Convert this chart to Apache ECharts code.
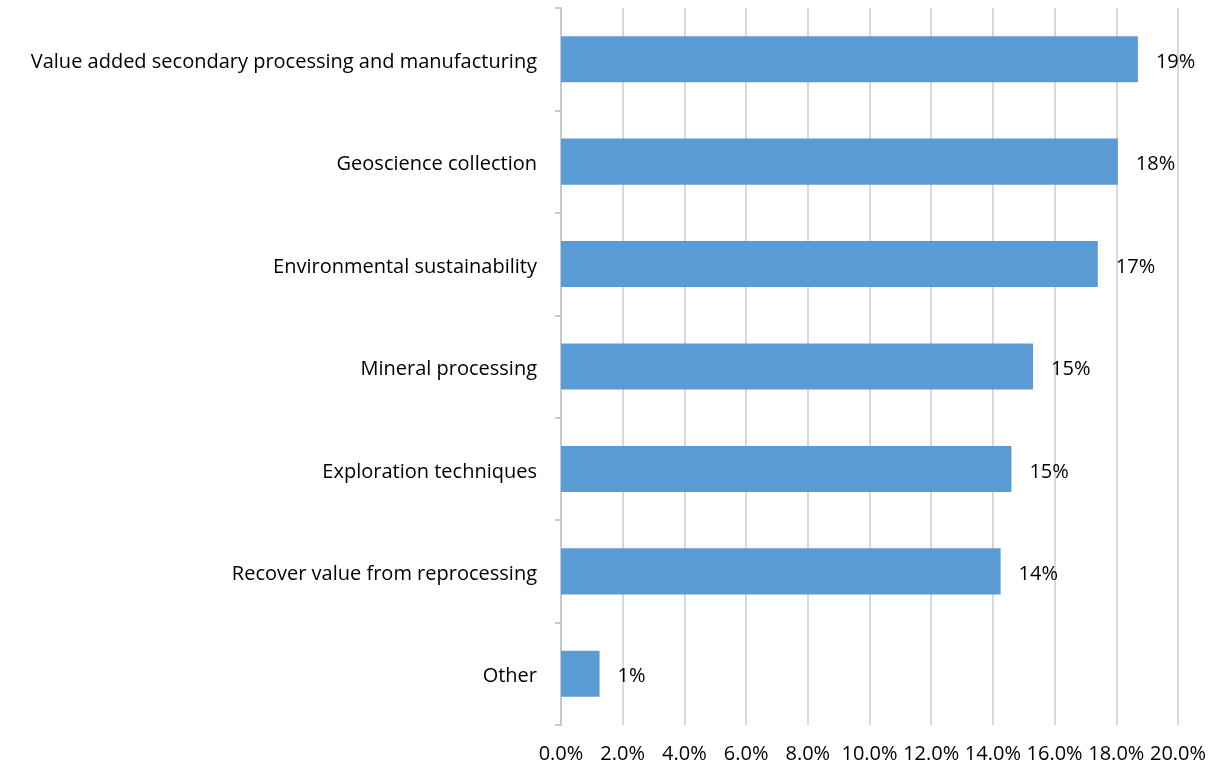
<!DOCTYPE html>
<html>
<head>
<meta charset="utf-8">
<script src="https://cdn.jsdelivr.net/npm/echarts@6/dist/echarts.min.js"></script>
<style>
  html, body { margin: 0; padding: 0; background: #ffffff; }
  #chart { width: 1214px; height: 769px; }
</style>
</head>
<body>
<div id="chart"></div>
<script>
// Share of responses by research priority (percent)
const categories = [
  'Value added secondary processing and manufacturing',
  'Geoscience collection',
  'Environmental sustainability',
  'Mineral processing',
  'Exploration techniques',
  'Recover value from reprocessing',
  'Other'
];
const shares = [18.7, 18.05, 17.4, 15.3, 14.6, 14.25, 1.25];

// Value axis range and step (percent)
const axisMin = 0;
const axisMax = 20;
const axisStep = 2;

const FONT = '"Open Sans", "Liberation Sans", Arial, sans-serif';
const GRID_GRAY = '#d9d9d9';

const chart = echarts.init(document.getElementById('chart'), null, { renderer: 'canvas' });

chart.setOption({
  backgroundColor: '#ffffff',
  animation: false,
  grid: { left: 561, right: 36, top: 8, bottom: 44, containLabel: false },
  xAxis: {
    type: 'value',
    min: axisMin,
    max: axisMax,
    interval: axisStep,
    axisLine: { show: false },
    axisTick: { show: false },
    splitLine: { show: true, lineStyle: { color: GRID_GRAY, width: 2 } },
    axisLabel: {
      margin: 19,
      fontFamily: FONT,
      fontSize: 20,
      color: '#000000',
      formatter: v => v.toFixed(1) + '%'
    }
  },
  yAxis: {
    type: 'category',
    data: categories,
    inverse: true,
    axisLine: { show: true, lineStyle: { color: '#c8c8c8', width: 2 } },
    axisTick: { show: true, inside: false, length: 6, lineStyle: { color: '#c8c8c8', width: 2 } },
    splitLine: { show: false },
    axisLabel: {
      margin: 24,
      formatter: v => '{c|' + v + '}',
      rich: {
        c: {
          fontFamily: FONT,
          fontSize: 20,
          color: '#000000',
          padding: [6, 0, 0, 0]
        }
      }
    }
  },
  series: [{
    type: 'bar',
    data: shares,
    barCategoryGap: '55%',
    itemStyle: { color: '#5b9bd5' },
    label: {
      show: true,
      position: 'right',
      distance: 18,
      offset: [0, 3],
      fontFamily: FONT,
      fontSize: 20,
      color: '#000000',
      formatter: p => Math.round(p.value) + '%'
    }
  }]
});
</script>
</body>
</html>
